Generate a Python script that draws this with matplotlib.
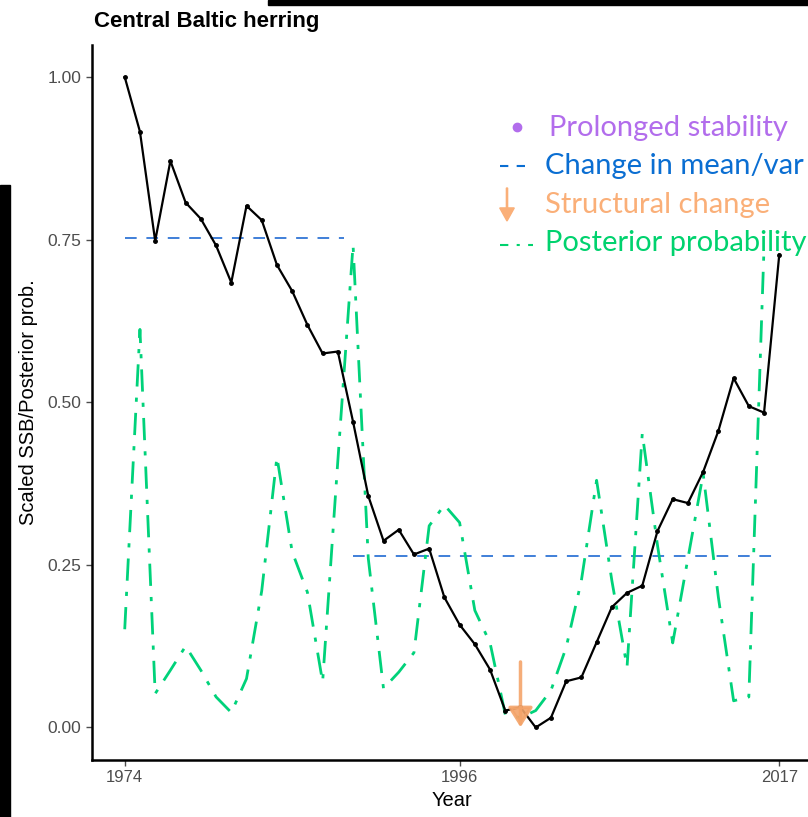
import numpy as np
import matplotlib
matplotlib.use("Agg")
import matplotlib.pyplot as plt
from matplotlib.lines import Line2D
from matplotlib.patches import Rectangle, FancyArrow

# data
years = np.arange(1974, 2018)
ssb = [1.00, 0.916, 0.748, 0.871, 0.807, 0.782, 0.741, 0.684, 0.802, 0.780,
       0.711, 0.671, 0.619, 0.575, 0.578, 0.470, 0.356, 0.287, 0.304, 0.266,
       0.275, 0.200, 0.158, 0.128, 0.089, 0.026, 0.031, 0.000, 0.015, 0.071,
       0.077, 0.131, 0.185, 0.207, 0.218, 0.302, 0.351, 0.345, 0.393, 0.456,
       0.537, 0.494, 0.484, 0.727]
post_years = np.arange(1974, 2017)
post = [0.151, 0.612, 0.052, 0.088, 0.125, 0.088, 0.047, 0.023, 0.075, 0.21,
        0.416, 0.27, 0.208, 0.070, 0.41, 0.742, 0.26, 0.06, 0.085, 0.115,
        0.31, 0.342, 0.315, 0.18, 0.13, 0.02, 0.015, 0.026, 0.057, 0.123,
        0.226, 0.38, 0.226, 0.093, 0.452, 0.28, 0.13, 0.26, 0.39, 0.20,
        0.041, 0.047, 0.739]
seg_start = [1974, 1989]
seg_end = [1988.4, 2016.6]
seg_mean = [0.752, 0.263]
break_year = 2000
xticks = [1974, 1996, 2017]
yticks = [0.00, 0.25, 0.50, 0.75, 1.00]

green = '#00D27A'
blue = '#3F7FD8'

fig = plt.figure(figsize=(8.08, 8.17), dpi=100)
ax = fig.add_axes([92/808, 57/817, 720/808, 715.5/817])
ax.spines['top'].set_visible(False)
ax.spines['right'].set_visible(False)
ax.spines['left'].set_linewidth(1.8)
ax.spines['bottom'].set_linewidth(1.8)

for s, e, m in zip(seg_start, seg_end, seg_mean):
    ax.plot([s, e], [m, m], color=blue, lw=1.4, dashes=(6, 5))

ax.plot(post_years, post, color=green, lw=2.0, dashes=(8, 4, 1.5, 4))
ax.plot(years, ssb, color='black', lw=1.6, marker='o', markersize=2.5)

ax.annotate('', xy=(break_year, -0.004), xytext=(break_year, 0.105),
            arrowprops=dict(arrowstyle='-|>,head_length=1.2,head_width=0.75',
                            color='#F4A46A', lw=2.5, alpha=0.9))

ax.set_xlim(1971.85, 2019.15)
ax.set_ylim(-0.05, 1.05)
ax.set_xticks(xticks)
ax.set_yticks(yticks)
ax.set_yticklabels(['%.2f' % v for v in yticks])
ax.tick_params(colors='#4D4D4D', length=4, width=1)
ax.tick_params(axis='y', labelsize=12.5)
ax.tick_params(axis='x', labelsize=12)
for lab in ax.get_xticklabels() + ax.get_yticklabels():
    lab.set_family('Liberation Sans')
ax.set_xlabel('Year', fontsize=14.5, family='Liberation Sans', labelpad=4)
ax.set_ylabel('Scaled SSB/Posterior prob.', fontsize=14.5, family='Liberation Sans', labelpad=7)
fig.text(94/808, 1 - 22/817, 'Central Baltic herring', fontsize=16, fontweight='bold',
         family='Liberation Sans', va='center', ha='left')

# legend drawn as free text
lf = 'Lato'
fs = 21
fig.add_artist(Line2D([517/808], [1 - 127/817], marker='o', markersize=6,
                      color='#B26DEC', transform=fig.transFigure))
fig.text(549/808, 1 - 128/817, 'Prolonged stability', color='#B26DEC', fontsize=fs, family=lf, va='center')
fig.add_artist(Line2D([500/808, 533/808], [1 - 166/817] * 2, color='#0A6ED2', lw=1.5,
                      dashes=(4, 4), transform=fig.transFigure))
fig.text(545/808, 1 - 166/817, 'Change in mean/var', color='#0A6ED2', fontsize=fs, family=lf, va='center')
fig.add_artist(FancyArrow(507/808, 1 - 188/817, 0, -33/817, width=0.0015, head_width=0.018,
                          head_length=0.016, length_includes_head=True, color='#FAAF78',
                          transform=fig.transFigure))
fig.text(545/808, 1 - 205/817, 'Structural change', color='#FAAF78', fontsize=fs, family=lf, va='center')
fig.add_artist(Line2D([500/808, 533/808], [1 - 245/817] * 2, color='#00D26E', lw=1.5,
                      dashes=(4, 4, 1.5, 4), transform=fig.transFigure))
fig.text(545/808, 1 - 243/817, 'Posterior probability', color='#00D26E', fontsize=fs, family=lf, va='center')

# black bars from the crop
fig.add_artist(Rectangle((268/808, 1 - 5/817), 540/808, 5/817, color='black',
                         transform=fig.transFigure))
fig.add_artist(Rectangle((0, 0), 10/808, (817 - 185)/817, color='black',
                         transform=fig.transFigure))

fig.savefig('out.png', dpi=100)
